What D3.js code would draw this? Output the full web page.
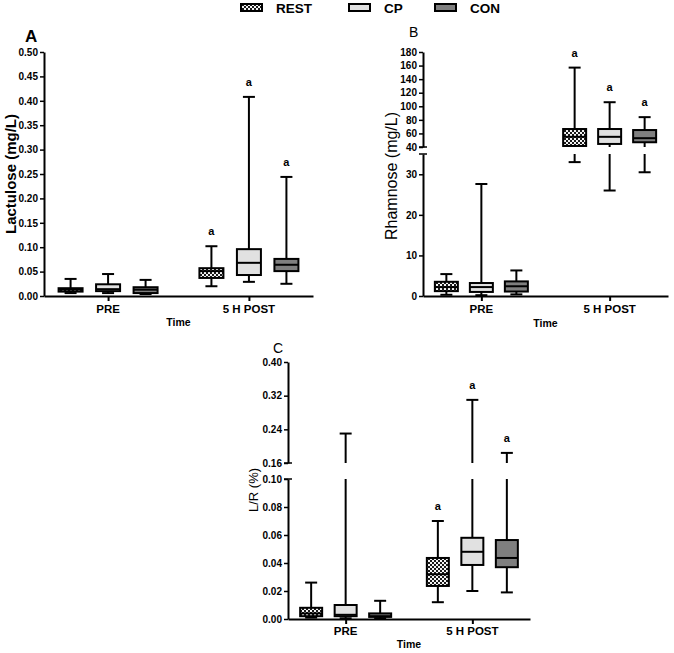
<!DOCTYPE html>
<html>
<head>
<meta charset="utf-8">
<script src="https://cdn.jsdelivr.net/npm/d3@7"></script>
<style>
  body { margin: 0; background: #fff; }
  svg { display: block; font-family: "Liberation Sans", Arial, sans-serif; }
</style>
</head>
<body>
<svg id="chart" width="674" height="653"></svg>
<script>
// categories
const timepoints = ["PRE", "5 H POST"]
const groups = ["REST", "CP", "CON"]
const groupFills = ["url(#checker)", "#e1e1e1", "#7f7f7f"]

// box summaries per group: [min, q1, median, q3, max]
const lactulosePre = [[0.006, 0.009, 0.013, 0.016, 0.035], [0.006, 0.010, 0.014, 0.024, 0.045], [0.004, 0.006, 0.013, 0.018, 0.033]]
const lactulosePost = [[0.020, 0.037, 0.051, 0.057, 0.102], [0.029, 0.043, 0.068, 0.096, 0.408], [0.025, 0.051, 0.064, 0.076, 0.244]]
const rhamnosePre = [[0.3, 1.2, 2.2, 3.5, 5.4], [0.2, 1.0, 2.2, 3.2, 27.6], [0.4, 1.1, 2.4, 3.6, 6.3]]
const rhamnosePost = [[33, 41.5, 55, 66.5, 157], [26, 44.5, 55, 66.5, 106], [30.5, 47, 53, 65, 84]]
const lrPre = [[0.001, 0.002, 0.004, 0.008, 0.026], [0.0005, 0.002, 0.003, 0.010, 0.23], [0.0005, 0.0015, 0.002, 0.004, 0.013]]
const lrPost = [[0.012, 0.0236, 0.032, 0.0436, 0.070], [0.020, 0.0386, 0.048, 0.058, 0.31], [0.019, 0.037, 0.0436, 0.0564, 0.184]]

// significance letters
const sigPre = ["", "", ""]
const sigPost = ["a", "a", "a"]

// tick labels
const lactuloseTicks = [0, 0.05, 0.10, 0.15, 0.20, 0.25, 0.30, 0.35, 0.40, 0.45, 0.50]
const rhamnoseTicksLow = [0, 10, 20, 30]
const rhamnoseTicksHigh = [40, 60, 80, 100, 120, 140, 160, 180]
const lrTicksLow = [0, 0.02, 0.04, 0.06, 0.08, 0.10]
const lrTicksHigh = [0.16, 0.24, 0.32, 0.40]

const svg = d3.select("#chart")

// checker pattern for REST
const pat = svg.append("defs").append("pattern")
    .attr("id", "checker").attr("patternUnits", "userSpaceOnUse")
    .attr("width", 4).attr("height", 4)
pat.append("rect").attr("width", 4).attr("height", 4).attr("fill", "#1a1a1a")
pat.append("rect").attr("width", 2).attr("height", 2).attr("fill", "#f4f4f4")
pat.append("rect").attr("x", 2).attr("y", 2).attr("width", 2).attr("height", 2).attr("fill", "#f4f4f4")

// legend
const legendX = [241, 349, 435]
groups.forEach((g, i) => {
    svg.append("rect").attr("x", legendX[i]).attr("y", 4).attr("width", 21).attr("height", 7)
        .attr("fill", groupFills[i]).attr("stroke", "#000").attr("stroke-width", 2)
    svg.append("text").attr("x", legendX[i] + 35).attr("y", 13)
        .attr("font-size", 13.5).attr("font-weight", "bold").text(g)
})

const panels = [
    {
        title: "A", titleX: 25, titleY: 42, titleSize: 17, titleWeight: "bold",
        yLabel: "Lactulose (mg/L)", yLabelX: 16, yLabelY: 174, yLabelSize: 15, yLabelWeight: "bold",
        x0: 44, x1: 313, baseY: 296, offset: 37.5, boxW: 24, timeY: 326, catY: 313,
        segments: [{ domain: [0, 0.5], range: [296, 52], ticks: lactuloseTicks, fmt: ".2f" }],
        pre: lactulosePre, post: lactulosePost
    },
    {
        title: "B", titleX: 409, titleY: 37, titleSize: 14, titleWeight: "normal",
        yLabel: "Rhamnose (mg/L)", yLabelX: 397, yLabelY: 176, yLabelSize: 16, yLabelWeight: "normal",
        x0: 423, x1: 668, baseY: 296, offset: 35, boxW: 23, timeY: 327, catY: 313,
        segments: [
            { domain: [0, 35], range: [296, 154], ticks: rhamnoseTicksLow, fmt: "d", capTop: true },
            { domain: [40, 180], range: [147, 52], ticks: rhamnoseTicksHigh, fmt: "d", capBottom: true }
        ],
        pre: rhamnosePre, post: rhamnosePost
    },
    {
        title: "C", titleX: 273, titleY: 353, titleSize: 14, titleWeight: "normal",
        yLabel: "L/R (%)", yLabelX: 258, yLabelY: 490, yLabelSize: 13, yLabelWeight: "normal",
        x0: 288, x1: 530, baseY: 619, offset: 34.5, boxW: 22, timeY: 648, catY: 635,
        segments: [
            { domain: [0, 0.10], range: [619, 479], ticks: lrTicksLow, fmt: ".2f", capTop: true },
            { domain: [0.16, 0.40], range: [463, 362], ticks: lrTicksHigh, fmt: ".2f", capBottom: true }
        ],
        pre: lrPre, post: lrPost
    }
]

function drawPanel(p) {
    const g = svg.append("g")
    const x = d3.scalePoint().domain(timepoints).range([p.x0, p.x1]).padding(0.455)
    const segs = p.segments.map(s => Object.assign({}, s, { y: d3.scaleLinear().domain(s.domain).range(s.range) }))

    // value -> pieces of [yA, yB] clipped to each axis segment
    function pieces(v1, v2) {
        const out = []
        segs.forEach(s => {
            const a = Math.max(Math.min(v1, v2), s.domain[0])
            const b = Math.min(Math.max(v1, v2), s.domain[1])
            if (b > a) out.push([s.y(a), s.y(b)])
        })
        return out
    }
    function yOf(v) {
        const s = segs.find(s => v >= s.domain[0] && v <= s.domain[1]) || segs[segs.length - 1]
        return s.y(v)
    }

    // y axes
    segs.forEach(s => {
        const ax = g.append("g").attr("transform", `translate(${p.x0},0)`)
            .call(d3.axisLeft(s.y).tickValues(s.ticks).tickSize(4).tickPadding(2).tickSizeOuter(0).tickFormat(d3.format(s.fmt)))
        ax.select(".domain").attr("stroke-width", 2)
        ax.selectAll(".tick line").attr("stroke-width", 1.5)
        ax.selectAll(".tick text").attr("font-size", 10).attr("font-weight", "bold")
            .attr("font-family", "Liberation Sans, Arial, sans-serif").attr("fill", "#000")
        if (s.capTop) g.append("line").attr("x1", p.x0 - 4).attr("x2", p.x0 + 4)
            .attr("y1", s.range[1]).attr("y2", s.range[1]).attr("stroke", "#000").attr("stroke-width", 1.5)
        if (s.capBottom) g.append("line").attr("x1", p.x0 - 4).attr("x2", p.x0 + 4)
            .attr("y1", s.range[0]).attr("y2", s.range[0]).attr("stroke", "#000").attr("stroke-width", 1.5)
    })

    // x axis
    const xa = g.append("g").attr("transform", `translate(0,${p.baseY})`)
        .call(d3.axisBottom(x).tickSize(5).tickSizeOuter(0))
    xa.select(".domain").attr("stroke-width", 2)
    xa.selectAll(".tick line").attr("stroke-width", 2)
    xa.selectAll(".tick text").remove()
    timepoints.forEach(t => {
        g.append("text").attr("x", x(t)).attr("y", p.catY).attr("text-anchor", "middle")
            .attr("font-size", 11.5).attr("font-weight", "bold").text(t)
    })
    g.append("text").attr("x", (p.x0 + p.x1) / 2).attr("y", p.timeY).attr("text-anchor", "middle")
        .attr("font-size", 10.5).attr("font-weight", "bold").text("Time")

    // titles
    g.append("text").attr("x", p.titleX).attr("y", p.titleY).attr("font-size", p.titleSize)
        .attr("font-weight", p.titleWeight).text(p.title)
    g.append("text").attr("transform", `translate(${p.yLabelX},${p.yLabelY}) rotate(-90)`)
        .attr("text-anchor", "middle").attr("font-size", p.yLabelSize)
        .attr("font-weight", p.yLabelWeight).text(p.yLabel)

    // boxes
    const sets = [[p.pre, sigPre], [p.post, sigPost]]
    sets.forEach(([data, sig], ti) => {
        const cx0 = x(timepoints[ti])
        data.forEach((d, gi) => {
            const cx = cx0 + (gi - 1) * p.offset
            const [mn, q1, md, q3, mx] = d
            const hw = p.boxW / 2, cap = 6
            // whiskers
            pieces(mn, q1).concat(pieces(q3, mx)).forEach(([ya, yb]) => {
                g.append("line").attr("x1", cx).attr("x2", cx).attr("y1", ya).attr("y2", yb)
                    .attr("stroke", "#000").attr("stroke-width", 2)
            })
            ;[mn, mx].forEach(v => {
                g.append("line").attr("x1", cx - cap).attr("x2", cx + cap).attr("y1", yOf(v)).attr("y2", yOf(v))
                    .attr("stroke", "#000").attr("stroke-width", 2)
            })
            // box
            pieces(q1, q3).forEach(([ya, yb]) => {
                g.append("rect").attr("x", cx - hw).attr("width", p.boxW)
                    .attr("y", Math.min(ya, yb)).attr("height", Math.abs(ya - yb))
                    .attr("fill", groupFills[gi]).attr("stroke", "#000").attr("stroke-width", 2)
            })
            g.append("line").attr("x1", cx - hw).attr("x2", cx + hw).attr("y1", yOf(md)).attr("y2", yOf(md))
                .attr("stroke", "#000").attr("stroke-width", 2)
            if (sig[gi]) {
                g.append("text").attr("x", cx).attr("y", yOf(mx) - 11).attr("text-anchor", "middle")
                    .attr("font-size", 11).attr("font-weight", "bold").text(sig[gi])
            }
        })
    })
}

panels.forEach(drawPanel)
</script>
</body>
</html>
